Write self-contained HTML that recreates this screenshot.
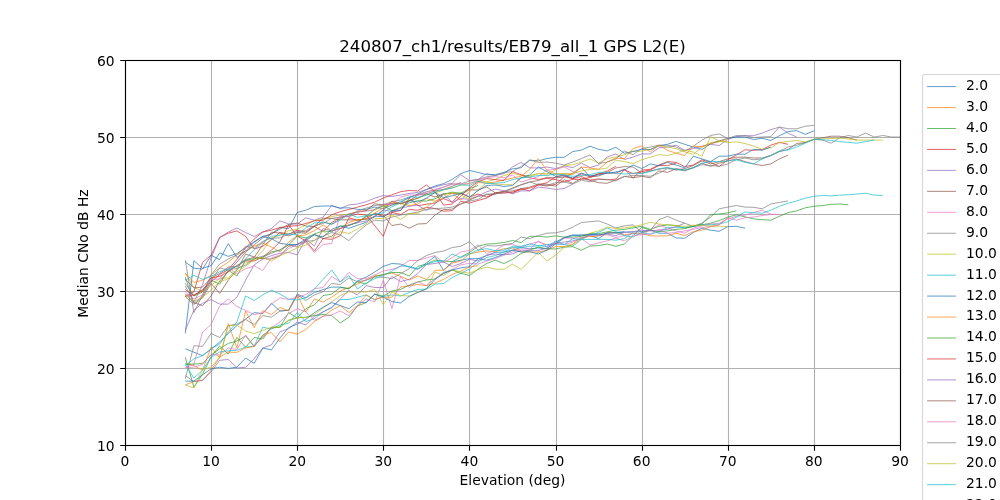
<!DOCTYPE html>
<html lang="en"><head><meta charset="utf-8"><title>240807_ch1/results/EB79_all_1 GPS L2(E)</title>
<style>html,body{margin:0;padding:0;background:#fff;overflow:hidden}svg{display:block}text{font-family:"DejaVu Sans","Liberation Sans",sans-serif;fill:#000}</style></head><body>
<svg width="1000" height="500" viewBox="0 0 1000 500">
<rect width="1000" height="500" fill="#fff"/>
<path d="M125.50 60.0V445.0M211.50 60.0V445.0M297.50 60.0V445.0M383.50 60.0V445.0M469.50 60.0V445.0M556.50 60.0V445.0M642.50 60.0V445.0M728.50 60.0V445.0M814.50 60.0V445.0M900.50 60.0V445.0M125.0 445.50H900.0M125.0 368.50H900.0M125.0 291.50H900.0M125.0 214.50H900.0M125.0 137.50H900.0M125.0 60.50H900.0" stroke="#b0b0b0" stroke-width="1.11" fill="none"/>
<clipPath id="c"><rect x="125.0" y="60.0" width="775.0" height="385.0"/></clipPath>
<g clip-path="url(#c)" fill="none" stroke-width="0.72" stroke-linejoin="round" stroke-linecap="butt">
<path d="M185.3 348.8L193.9 352.2L202.5 355.7L211.1 349.1L219.7 342.1L228.3 333.4L236.9 325.6L245.6 319.0L254.2 312.6L262.8 313.6L271.4 303.3L280.0 311.0L288.6 310.2L297.2 294.1L305.8 297.9L314.4 292.5L323.1 289.5L331.7 287.1L340.3 287.1L348.9 288.7L357.5 281.0L366.1 277.1L374.7 272.0L383.3 266.4L391.9 263.5L400.6 264.1L409.2 267.1L417.8 269.4L426.4 263.0L435.0 256.4L443.6 270.5L452.2 262.0L460.8 260.2L469.4 258.7L478.1 258.7L486.7 255.6L495.3 252.3L503.9 252.0L512.5 250.2L521.1 247.4L529.7 248.8L538.3 247.9L546.9 249.0L555.6 242.0L564.2 237.5L572.8 234.8L581.4 235.6L590.0 235.6L598.6 238.6L607.2 232.5L615.8 233.2L624.4 232.0L633.1 232.0L641.7 231.7L650.3 230.2L658.9 233.2L667.5 233.2L676.1 237.9L684.7 238.3L693.3 232.5L701.9 228.2L710.6 230.2L719.2 231.3L727.8 226.6L736.4 226.3L745.0 228.2" stroke="#1f77b4"/>
<path d="M185.3 363.4L193.9 365.7L202.5 370.3L211.1 347.2L219.7 358.0L228.3 323.6L236.9 348.0L245.6 311.0L254.2 327.6L262.8 310.6L271.4 314.5L280.0 307.5L288.6 311.0L297.2 294.9L305.8 312.0L314.4 299.0L323.1 302.0L331.7 297.2L340.3 291.0L348.9 287.5L357.5 284.1L366.1 280.0L374.7 276.0L383.3 274.8L391.9 273.0L400.6 276.4L409.2 280.0L417.8 276.0L426.4 279.4L435.0 270.5L443.6 270.0L452.2 263.3L460.8 261.0L469.4 254.0L478.1 252.0L486.7 251.0L495.3 251.7L503.9 248.7L512.5 247.9L521.1 251.7L529.7 252.0L538.3 252.0L546.9 250.2L555.6 246.6L564.2 246.6L572.8 244.0L581.4 237.5L590.0 236.6L598.6 236.0L607.2 233.2L615.8 232.5L624.4 234.8L633.1 233.5L641.7 233.2L650.3 235.9L658.9 235.9L667.5 235.9L676.1 233.2L684.7 235.6L693.3 231.7L701.9 230.2L710.6 226.6L719.2 224.8L727.8 217.8" stroke="#ff7f0e"/>
<path d="M185.3 357.2L193.9 387.2L202.5 374.2L211.1 356.8L219.7 346.0L228.3 354.1L236.9 337.5L245.6 347.2L254.2 337.5L262.8 339.0L271.4 327.2L280.0 327.2L288.6 312.6L297.2 317.9L305.8 308.7L314.4 304.9L323.1 295.6L331.7 294.1L340.3 287.5L348.9 288.7L357.5 281.8L366.1 284.1L374.7 276.4L383.3 274.5L391.9 272.5L400.6 272.5L409.2 276.0L417.8 266.4L426.4 264.1L435.0 260.0L443.6 261.0L452.2 261.7L460.8 257.1L469.4 252.5L478.1 246.3L486.7 244.0L495.3 243.6L503.9 242.5L512.5 240.5L521.1 242.5L529.7 236.3L538.3 236.3L546.9 237.1L555.6 235.9L564.2 237.1L572.8 237.1L581.4 236.3L590.0 233.6L598.6 233.6L607.2 231.9L615.8 230.2L624.4 229.4L633.1 227.9L641.7 226.3L650.3 229.4L658.9 226.3L667.5 224.8L676.1 225.6L684.7 227.9L693.3 226.3L701.9 224.8L710.6 223.2L719.2 220.5L727.8 217.1L736.4 214.8L745.0 216.8L753.6 218.9L762.2 219.7L770.8 220.2L779.4 216.3L788.1 212.5L796.7 210.9L805.3 207.8L813.9 206.3L822.5 205.5L831.1 204.4L839.7 204.0L848.3 204.8" stroke="#2ca02c"/>
<path d="M185.3 296.0L193.9 291.8L202.5 262.5L211.1 255.0L219.7 237.5L228.3 233.2L236.9 230.9L245.6 236.3L254.2 249.0L262.8 246.3L271.4 239.7L280.0 232.3L288.6 234.3L297.2 230.2L305.8 232.1L314.4 226.4L323.1 231.4L331.7 222.5L340.3 217.1L348.9 216.4L357.5 214.0L366.1 215.0L374.7 225.6L383.3 236.3L391.9 212.1L400.6 210.4L409.2 198.1L417.8 205.8L426.4 204.2L435.0 203.1L443.6 198.5L452.2 202.2L460.8 192.9L469.4 197.1L478.1 194.0L486.7 197.1L495.3 192.8L503.9 191.7L512.5 193.2L521.1 188.6L529.7 190.9L538.3 184.7L546.9 186.0L555.6 184.3L564.2 176.7L572.8 178.7L581.4 173.9L590.0 176.9L598.6 173.8L607.2 173.0L615.8 173.2L624.4 169.0L633.1 178.0L641.7 170.1L650.3 169.3L658.9 165.0L667.5 161.6L676.1 162.4L684.7 166.6L693.3 165.0L701.9 159.8L710.6 162.4L719.2 166.6L727.8 159.8L736.4 154.9L745.0 149.8L753.6 150.3L762.2 149.5L770.8 145.2L779.4 142.4L788.1 144.3" stroke="#d62728"/>
<path d="M185.3 286.0L193.9 302.0L202.5 284.8L211.1 257.9L219.7 237.5L228.3 232.0L236.9 228.0L245.6 232.5L254.2 236.5L262.8 232.0L271.4 228.6L280.0 220.9L288.6 224.0L297.2 224.0L305.8 217.8L314.4 220.2L323.1 217.1L331.7 205.5L340.3 208.6L348.9 204.9L357.5 204.0L366.1 201.7L374.7 198.1L383.3 195.5L391.9 196.5L400.6 195.1L409.2 193.5L417.8 192.4L426.4 189.4L435.0 187.1L443.6 184.7L452.2 183.2L460.8 174.7L469.4 180.5L478.1 179.4L486.7 173.6L495.3 175.5L503.9 173.6L512.5 167.0L521.1 162.4L529.7 167.8L538.3 168.0L546.9 167.0L555.6 168.6L564.2 166.0L572.8 167.6L581.4 163.2L590.0 167.6L598.6 165.0L607.2 157.0L615.8 153.9L624.4 159.5L633.1 157.0L641.7 153.9L650.3 153.9L658.9 147.8L667.5 147.0L676.1 145.2L684.7 150.3L693.3 148.6L701.9 146.2L710.6 144.3L719.2 145.5L727.8 139.3L736.4 136.6L745.0 135.7L753.6 135.7L762.2 133.1L770.8 129.7L779.4 127.1L788.1 133.1L796.7 137.1" stroke="#9467bd"/>
<path d="M185.3 296.6L193.9 304.4L202.5 297.9L211.1 283.3L219.7 293.5L228.3 280.2L236.9 270.1L245.6 254.1L254.2 256.9L262.8 258.7L271.4 259.0L280.0 255.9L288.6 246.4L297.2 244.4L305.8 240.9L314.4 234.2L323.1 238.7L331.7 236.2L340.3 228.6L348.9 225.5L357.5 221.8L366.1 216.8L374.7 214.0L383.3 215.1L391.9 225.6L400.6 224.0L409.2 228.2L417.8 224.0L426.4 223.6L435.0 215.1L443.6 209.6L452.2 209.1L460.8 204.0L469.4 200.1L478.1 196.3L486.7 194.8L495.3 194.0L503.9 191.7L512.5 190.9L521.1 188.6L529.7 187.1L538.3 184.0L546.9 184.2L555.6 186.2L564.2 179.7L572.8 183.4L581.4 178.2L590.0 180.4L598.6 182.7L607.2 183.3L615.8 180.1L624.4 176.3L633.1 177.8L641.7 176.3L650.3 177.8L658.9 170.9L667.5 172.4L676.1 168.6L684.7 170.1L693.3 167.8L701.9 163.2L710.6 166.3L719.2 163.2L727.8 160.9L736.4 158.9L745.0 161.6L753.6 163.9L762.2 165.5L770.8 163.9L779.4 158.9L788.1 155.2" stroke="#8c564b"/>
<path d="M185.3 367.2L193.9 364.5L202.5 332.0L211.1 324.5L219.7 306.0L228.3 299.0L236.9 306.4L245.6 310.5L254.2 314.5L262.8 313.0L271.4 304.1L280.0 297.9L288.6 299.5L297.2 297.2L305.8 294.5L314.4 288.7L323.1 287.5L331.7 276.4L340.3 282.0L348.9 272.5L357.5 278.7L366.1 278.7L374.7 275.0L383.3 271.0L391.9 269.4L400.6 266.4L409.2 260.5L417.8 260.5L426.4 257.9L435.0 255.6L443.6 262.5L452.2 257.5L460.8 252.0L469.4 250.6L478.1 244.8L486.7 253.5L495.3 250.6L503.9 244.8L512.5 244.6L521.1 247.1L529.7 244.0L538.3 241.7L546.9 244.8L555.6 243.0L564.2 238.0L572.8 238.3L581.4 237.5L590.0 235.6L598.6 235.0L607.2 234.8L615.8 237.5L624.4 235.6L633.1 233.5L641.7 234.0L650.3 230.2L658.9 224.8L667.5 228.2L676.1 230.9L684.7 233.2L693.3 228.2L701.9 225.6L710.6 224.0L719.2 223.2L727.8 218.9L736.4 216.3L745.0 215.1L753.6 212.5L762.2 210.2L770.8 214.2L779.4 214.5" stroke="#e377c2"/>
<path d="M185.3 378.8L193.9 345.7L202.5 346.4L211.1 333.4L219.7 337.5L228.3 325.6L236.9 324.1L245.6 319.5L254.2 324.5L262.8 315.6L271.4 317.2L280.0 311.0L288.6 310.2L297.2 294.9L305.8 300.5L314.4 294.9L323.1 291.8L331.7 283.5L340.3 284.5L348.9 277.9L357.5 281.8L366.1 280.2L374.7 277.1L383.3 277.1L391.9 278.7L400.6 273.5L409.2 268.7L417.8 260.5L426.4 255.6L435.0 252.5L443.6 251.0L452.2 247.5L460.8 246.3L469.4 241.7L478.1 250.2L486.7 245.6L495.3 246.0L503.9 244.8L512.5 243.3L521.1 237.1L529.7 238.6L538.3 235.6L546.9 233.2L555.6 232.8L564.2 230.9L572.8 227.1L581.4 222.5L590.0 221.7L598.6 220.9L607.2 224.0L615.8 227.9L624.4 225.9L633.1 224.8L641.7 232.5L650.3 230.2L658.9 219.7L667.5 216.3L676.1 220.2L684.7 223.2L693.3 226.3L701.9 223.2L710.6 217.1L719.2 208.8L727.8 207.1L736.4 205.5L745.0 207.1L753.6 207.3L762.2 208.8L770.8 204.0L779.4 202.4L788.1 200.9" stroke="#7f7f7f"/>
<path d="M185.3 273.3L193.9 287.1L202.5 291.4L211.1 285.6L219.7 278.2L228.3 277.9L236.9 269.4L245.6 263.1L254.2 260.0L262.8 250.7L271.4 238.4L280.0 235.2L288.6 230.8L297.2 229.2L305.8 225.0L314.4 220.5L323.1 219.0L331.7 216.5L340.3 215.1L348.9 214.3L357.5 211.7L366.1 210.4L374.7 210.2L383.3 205.9L391.9 204.8L400.6 203.6L409.2 200.1L417.8 198.4L426.4 194.8L435.0 193.0L443.6 190.1L452.2 187.7L460.8 185.5L469.4 183.4L478.1 180.9L486.7 181.7L495.3 179.4L503.9 175.5L512.5 173.2L521.1 175.5L529.7 175.5L538.3 173.6L546.9 174.0L555.6 170.1L564.2 165.5L572.8 164.7L581.4 162.0L590.0 159.0L598.6 163.2L607.2 158.6L615.8 157.0L624.4 154.7L633.1 151.0L641.7 151.2L650.3 149.3L658.9 145.2L667.5 147.0L676.1 148.6L684.7 152.0L693.3 154.2L701.9 147.0L710.6 142.6L719.2 140.9L727.8 141.6" stroke="#bcbd22"/>
<path d="M185.3 364.5L193.9 378.0L202.5 370.3L211.1 357.2L219.7 352.0L228.3 350.8L236.9 350.3L245.6 347.2L254.2 346.1L262.8 327.2L271.4 329.0L280.0 324.9L288.6 323.3L297.2 312.6L305.8 321.6L314.4 318.7L323.1 311.8L331.7 307.9L340.3 299.5L348.9 299.5L357.5 297.2L366.1 294.9L374.7 300.0L383.3 296.4L391.9 294.9L400.6 296.0L409.2 292.5L417.8 289.5L426.4 289.0L435.0 284.1L443.6 283.5L452.2 277.5L460.8 273.3L469.4 269.1L478.1 262.0L486.7 257.5L495.3 255.6L503.9 252.0L512.5 247.5L521.1 247.5L529.7 246.3L538.3 246.0L546.9 244.6L555.6 244.3L564.2 244.4L572.8 246.1L581.4 239.6L590.0 234.8L598.6 232.4L607.2 228.0L615.8 231.5L624.4 235.8L633.1 237.0L641.7 232.5L650.3 234.3L658.9 231.7L667.5 227.4L676.1 227.4L684.7 227.4L693.3 226.6L701.9 224.8L710.6 224.8L719.2 224.0L727.8 221.7L736.4 217.1L745.0 211.9L753.6 212.8L762.2 213.2L770.8 210.2L779.4 206.3L788.1 203.2L796.7 200.9L805.3 198.2L813.9 196.3L822.5 195.5L831.1 195.9L839.7 195.1L848.3 194.8L856.9 194.0L865.6 193.2L874.2 195.1L882.8 195.5" stroke="#17becf"/>
<path d="M185.3 333.4L193.9 260.7L202.5 268.3L211.1 265.6L219.7 252.9L228.3 256.4L236.9 253.5L245.6 247.9L254.2 241.7L262.8 236.3L271.4 234.0L280.0 227.5L288.6 228.6L297.2 212.5L305.8 210.2L314.4 206.5L323.1 206.0L331.7 206.0L340.3 208.0L348.9 207.8L357.5 209.4L366.1 209.4L374.7 207.1L383.3 208.6L391.9 205.1L400.6 201.7L409.2 197.8L417.8 194.0L426.4 189.6L435.0 186.0L443.6 183.6L452.2 179.4L460.8 173.6L469.4 170.5L478.1 172.4L486.7 174.7L495.3 174.7L503.9 172.4L512.5 168.8L521.1 167.8L529.7 160.1L538.3 160.9L546.9 158.6L555.6 157.3L564.2 157.3L572.8 151.6L581.4 150.1L590.0 146.2L598.6 149.3L607.2 150.9L615.8 147.3L624.4 153.2L633.1 151.6L641.7 149.3L650.3 149.5L658.9 146.0L667.5 144.3L676.1 141.4L684.7 144.3L693.3 147.0L701.9 149.5L710.6 143.9L719.2 140.9L727.8 138.3L736.4 137.1L745.0 137.1L753.6 139.5L762.2 138.3L770.8 140.5L779.4 135.7L788.1 131.6L796.7 130.6L805.3 134.4L813.9 130.8" stroke="#1f77b4"/>
<path d="M185.3 384.9L193.9 381.5L202.5 380.3L211.1 370.3L219.7 357.2L228.3 352.0L236.9 352.4L245.6 348.0L254.2 346.4L262.8 334.9L271.4 332.6L280.0 341.8L288.6 332.0L297.2 334.1L305.8 329.5L314.4 321.6L323.1 316.4L331.7 310.2L340.3 305.6L348.9 312.6L357.5 305.6L366.1 295.0L374.7 299.5L383.3 297.2L391.9 297.2L400.6 287.1L409.2 285.6L417.8 284.5L426.4 285.6L435.0 283.0L443.6 279.4L452.2 274.5L460.8 271.0L469.4 267.1L478.1 265.6" stroke="#ff7f0e"/>
<path d="M185.3 364.1L193.9 364.1L202.5 363.4L211.1 354.9L219.7 348.8L228.3 343.4L236.9 341.1L245.6 336.0L254.2 346.4L262.8 335.7L271.4 328.0L280.0 327.2L288.6 320.3L297.2 317.9L305.8 317.2L314.4 315.6L323.1 314.5L331.7 315.6L340.3 323.0L348.9 317.2L357.5 306.0L366.1 302.6L374.7 294.1L383.3 296.0L391.9 291.0L400.6 289.5L409.2 285.0L417.8 282.0L426.4 280.0L435.0 279.0L443.6 272.5L452.2 270.0L460.8 273.3L469.4 275.6L478.1 269.1L486.7 263.5L495.3 260.2L503.9 263.5L512.5 259.4L521.1 253.5L529.7 250.2L538.3 247.1L546.9 248.7L555.6 249.0L564.2 247.1L572.8 246.7L581.4 250.2L590.0 246.0L598.6 245.6L607.2 244.0L615.8 246.3L624.4 244.0L633.1 235.6L641.7 227.4L650.3 230.2L658.9 231.7L667.5 230.9L676.1 229.4L684.7 228.6L693.3 226.3L701.9 224.0L710.6 214.8L719.2 214.0L727.8 212.8L736.4 210.9" stroke="#2ca02c"/>
<path d="M185.3 296.4L193.9 294.9L202.5 291.0L211.1 277.9L219.7 276.4L228.3 271.8L236.9 265.5L245.6 261.0L254.2 261.0L262.8 257.0L271.4 250.2L280.0 241.7L288.6 224.8L297.2 236.0L305.8 240.9L314.4 251.0L323.1 238.6L331.7 239.4L340.3 235.6L348.9 217.8L357.5 220.2L366.1 219.0L374.7 213.4L383.3 216.5L391.9 212.4L400.6 214.5L409.2 209.5L417.8 210.2L426.4 207.4L435.0 208.5L443.6 211.2L452.2 210.7L460.8 201.4L469.4 203.1L478.1 200.5L486.7 198.1L495.3 193.2L503.9 193.2L512.5 192.1L521.1 189.6L529.7 188.1L538.3 185.0L546.9 182.7L555.6 176.9L564.2 175.0L572.8 178.6L581.4 176.5L590.0 180.1L598.6 178.9L607.2 179.9L615.8 179.1L624.4 169.8L633.1 173.7L641.7 171.6L650.3 170.0L658.9 165.5L667.5 165.6L676.1 163.2" stroke="#d62728"/>
<path d="M185.3 375.7L193.9 381.5L202.5 380.3L211.1 371.9L219.7 360.3L228.3 359.5L236.9 368.0L245.6 367.2L254.2 358.8L262.8 348.0L271.4 344.9L280.0 331.8L288.6 328.7L297.2 322.0L305.8 324.9L314.4 316.4L323.1 311.8L331.7 307.2L340.3 299.0L348.9 290.5L357.5 295.0L366.1 285.6L374.7 287.5L383.3 287.5L391.9 276.4L400.6 281.5L409.2 279.4L417.8 273.5L426.4 264.5L435.0 263.5L443.6 262.0L452.2 266.4L460.8 263.5L469.4 259.4L478.1 261.0L486.7 255.0L495.3 254.0L503.9 254.8L512.5 254.0L521.1 250.2L529.7 250.6L538.3 250.6L546.9 247.9L555.6 243.3L564.2 242.0L572.8 240.9L581.4 238.6L590.0 234.8L598.6 235.0L607.2 234.0L615.8 235.6L624.4 232.5L633.1 231.7L641.7 230.2L650.3 230.9L658.9 230.2L667.5 229.4L676.1 226.6L684.7 223.2" stroke="#9467bd"/>
<path d="M185.3 279.0L193.9 287.9L202.5 287.1L211.1 277.9L219.7 273.5L228.3 267.1L236.9 266.7L245.6 259.6L254.2 257.4L262.8 244.6L271.4 232.1L280.0 233.1L288.6 235.9L297.2 232.4L305.8 233.2L314.4 226.2L323.1 218.2L331.7 218.5L340.3 219.8L348.9 219.9L357.5 219.9L366.1 219.3L374.7 216.7L383.3 210.2L391.9 201.1L400.6 203.8L409.2 201.1L417.8 198.2L426.4 193.7L435.0 197.1L443.6 193.7L452.2 193.2L460.8 194.1L469.4 189.9L478.1 190.0L486.7 186.9L495.3 193.0L503.9 191.4L512.5 188.0L521.1 184.7L529.7 182.0L538.3 180.5L546.9 177.3L555.6 177.8L564.2 177.0L572.8 173.2L581.4 167.3L590.0 177.0L598.6 176.0L607.2 172.5L615.8 168.0L624.4 166.6L633.1 167.0L641.7 173.2L650.3 170.9L658.9 169.3L667.5 167.8L676.1 170.1L684.7 168.6L693.3 165.5L701.9 160.9L710.6 163.9L719.2 161.6L727.8 158.9L736.4 157.2L745.0 157.2L753.6 158.0L762.2 158.0L770.8 155.5L779.4 151.6L788.1 149.5L796.7 143.5L805.3 142.6L813.9 139.3L822.5 137.8L831.1 136.2L839.7 136.2L848.3 137.8L856.9 140.1" stroke="#8c564b"/>
<path d="M185.3 367.6L193.9 367.2L202.5 364.4L211.1 354.4L219.7 355.1L228.3 348.0L236.9 349.5L245.6 335.0L254.2 346.1L262.8 337.2L271.4 328.0L280.0 321.8L288.6 313.6L297.2 308.7L305.8 311.8L314.4 320.3L323.1 316.4L331.7 314.9L340.3 311.0L348.9 315.6L357.5 306.0L366.1 299.0L374.7 302.0L383.3 280.0L391.9 308.7L400.6 276.4L409.2 287.5L417.8 281.5L426.4 285.6L435.0 278.7L443.6 273.3L452.2 269.4L460.8 264.8L469.4 263.3L478.1 264.1L486.7 261.0L495.3 258.7L503.9 255.0L512.5 252.0L521.1 248.7L529.7 249.4L538.3 240.9L546.9 246.6L555.6 243.0L564.2 244.6L572.8 242.0L581.4 238.6L590.0 245.0L598.6 243.0L607.2 240.9L615.8 238.0L624.4 240.9L633.1 235.6L641.7 234.8L650.3 234.0L658.9 229.4L667.5 233.2L676.1 232.5L684.7 230.9L693.3 229.4L701.9 227.4L710.6 226.6L719.2 224.8L727.8 217.8L736.4 220.2L745.0 217.8L753.6 217.1L762.2 215.5L770.8 214.5" stroke="#e377c2"/>
<path d="M185.3 260.2L193.9 312.6L202.5 294.9L211.1 274.8L219.7 264.1L228.3 259.0L236.9 254.8L245.6 246.3L254.2 248.2L262.8 241.3L271.4 238.1L280.0 237.9L288.6 234.0L297.2 231.7L305.8 230.7L314.4 225.6L323.1 223.6L331.7 218.3L340.3 217.1L348.9 215.9L357.5 210.9L366.1 208.1L374.7 205.5L383.3 204.8L391.9 201.7L400.6 200.0L409.2 197.1L417.8 194.4L426.4 191.7L435.0 190.1L443.6 187.1L452.2 184.0L460.8 184.0L469.4 181.0L478.1 179.4L486.7 176.8L495.3 175.5L503.9 172.7L512.5 171.6L521.1 166.3L529.7 160.1L538.3 162.4L546.9 162.0L555.6 163.2L564.2 165.0L572.8 162.0L581.4 158.6L590.0 155.0L598.6 163.6L607.2 162.0L615.8 159.0L624.4 151.0L633.1 154.7L641.7 148.6L650.3 147.0L658.9 145.2L667.5 145.2L676.1 147.0L684.7 151.2L693.3 146.2L701.9 140.1L710.6 135.5L719.2 133.9L727.8 138.5L736.4 135.5L745.0 135.7L753.6 137.5L762.2 137.0L770.8 136.6L779.4 127.0L788.1 128.8L796.7 128.8L805.3 126.2L813.9 125.4" stroke="#7f7f7f"/>
<path d="M185.3 384.9L193.9 388.0L202.5 369.5L211.1 367.2L219.7 357.2L228.3 325.6L236.9 325.0L245.6 331.0L254.2 333.6L262.8 330.3L271.4 327.2L280.0 327.2L288.6 320.3L297.2 317.6L305.8 317.6L314.4 314.5L323.1 307.9L331.7 301.8L340.3 295.6L348.9 291.8L357.5 292.0L366.1 292.0L374.7 289.5L383.3 304.6L391.9 292.0L400.6 295.6L409.2 296.0L417.8 292.0L426.4 289.0L435.0 272.0L443.6 275.6L452.2 270.0L460.8 271.8L469.4 273.3L478.1 269.7L486.7 267.1L495.3 269.1L503.9 269.4L512.5 264.1L521.1 269.4L529.7 261.0L538.3 252.0L546.9 261.0L555.6 255.1L564.2 247.3L572.8 244.8L581.4 238.6L590.0 233.2L598.6 230.9L607.2 227.1L615.8 228.6L624.4 227.9L633.1 226.7L641.7 224.8L650.3 222.2L658.9 224.0L667.5 224.8L676.1 225.6L684.7 226.3L693.3 225.2L701.9 225.6L710.6 225.9L719.2 226.3L727.8 226.6" stroke="#bcbd22"/>
<path d="M185.3 365.7L193.9 358.8L202.5 355.7L211.1 348.8L219.7 344.1L228.3 332.0L236.9 322.0L245.6 296.0L254.2 300.5L262.8 294.9L271.4 290.2L280.0 294.1L288.6 299.0L297.2 300.0L305.8 297.9L314.4 289.0L323.1 279.4L331.7 270.0L340.3 282.0L348.9 275.6L357.5 289.0L366.1 283.0L374.7 278.7L383.3 275.6L391.9 271.0L400.6 266.0L409.2 266.4L417.8 268.7L426.4 264.5L435.0 261.5L443.6 261.0L452.2 254.0L460.8 257.5L469.4 254.0L478.1 250.2L486.7 248.7L495.3 250.6L503.9 250.2L512.5 246.3L521.1 246.3L529.7 244.0L538.3 245.6L546.9 246.6L555.6 240.9L564.2 244.6L572.8 238.6L581.4 239.4L590.0 239.4L598.6 239.4L607.2 239.4L615.8 240.2L624.4 238.6L633.1 232.5" stroke="#17becf"/>
<path d="M185.3 381.1L193.9 381.1L202.5 374.9L211.1 368.8L219.7 367.2L228.3 368.4L236.9 367.2L245.6 358.0L254.2 363.4L262.8 348.0L271.4 349.9L280.0 338.0L288.6 327.6L297.2 324.1L305.8 319.5L314.4 312.6L323.1 307.2L331.7 302.6L340.3 305.6L348.9 308.7L357.5 302.0L366.1 302.6L374.7 294.1L383.3 297.2L391.9 301.5L400.6 303.0L409.2 296.5L417.8 292.5L426.4 289.0L435.0 279.4L443.6 273.5L452.2 270.0L460.8 267.9L469.4 266.6L478.1 258.7L486.7 260.2L495.3 257.5L503.9 254.0L512.5 250.2L521.1 252.0L529.7 251.7L538.3 254.0L546.9 250.2L555.6 244.0L564.2 237.9L572.8 235.6L581.4 234.8L590.0 234.4L598.6 234.8L607.2 233.2L615.8 232.5L624.4 231.7" stroke="#1f77b4"/>
<path d="M185.3 273.3L193.9 282.5L202.5 280.2L211.1 275.1L219.7 267.9L228.3 262.0L236.9 254.8L245.6 251.1L254.2 246.1L262.8 243.0L271.4 247.1L280.0 252.0L288.6 242.0L297.2 236.0L305.8 234.8L314.4 230.6L323.1 225.0L331.7 230.9L340.3 228.2L348.9 222.5L357.5 219.8L366.1 218.9L374.7 213.0L383.3 208.0L391.9 202.1L400.6 203.5L409.2 205.6L417.8 204.1L426.4 198.4L435.0 201.4L443.6 197.8L452.2 193.2L460.8 200.1L469.4 192.1L478.1 182.4L486.7 183.2L495.3 182.0L503.9 180.1L512.5 178.0L521.1 176.3L529.7 169.3L538.3 158.6L546.9 170.1L555.6 174.0L564.2 173.6L572.8 174.7L581.4 167.0L590.0 168.0L598.6 169.3L607.2 162.0L615.8 158.0L624.4 158.6L633.1 148.6L641.7 146.0L650.3 152.0L658.9 145.2L667.5 150.3L676.1 153.2L684.7 155.5L693.3 146.0L701.9 147.0L710.6 143.5L719.2 141.8L727.8 138.5" stroke="#ff7f0e"/>
<path d="M185.3 283.3L193.9 296.0L202.5 292.0L211.1 280.2L219.7 284.1L228.3 270.2L236.9 276.0L245.6 260.2L254.2 258.7L262.8 257.9L271.4 252.0L280.0 250.2L288.6 245.0L297.2 236.0L305.8 237.9L314.4 234.0L323.1 230.9L331.7 231.7L340.3 226.2L348.9 225.3L357.5 222.7L366.1 216.2L374.7 209.4L383.3 205.7L391.9 210.8L400.6 207.5L409.2 202.8L417.8 200.7L426.4 201.1L435.0 198.8L443.6 194.4L452.2 192.1L460.8 193.2L469.4 188.6L478.1 185.5" stroke="#2ca02c"/>
<path d="M185.3 289.5L193.9 295.6L202.5 289.5L211.1 281.8L219.7 274.5L228.3 269.4L236.9 259.4L245.6 247.9L254.2 239.0L262.8 232.0L271.4 230.2L280.0 227.5L288.6 226.3L297.2 225.6L305.8 223.5L314.4 220.9L323.1 220.2L331.7 214.8L340.3 211.7L348.9 209.4L357.5 207.1L366.1 204.8L374.7 202.1L383.3 198.1L391.9 194.8L400.6 191.7L409.2 190.5L417.8 190.9L426.4 185.0L435.0 191.7L443.6 205.1L452.2 204.0L460.8 196.3L469.4 187.8L478.1 181.7L486.7 178.6L495.3 179.6L503.9 180.5L512.5 171.6L521.1 174.7L529.7 177.8L538.3 179.4L546.9 178.4L555.6 179.6L564.2 181.8L572.8 179.3L581.4 179.4L590.0 177.4L598.6 174.0L607.2 171.0L615.8 166.3" stroke="#d62728"/>
<path d="M185.3 330.3L193.9 310.2L202.5 303.3L211.1 299.5L219.7 304.1L228.3 304.1L236.9 297.2L245.6 280.2L254.2 264.8L262.8 259.0L271.4 255.6L280.0 253.3L288.6 252.5L297.2 254.8L305.8 239.0L314.4 246.0L323.1 228.6L331.7 230.9L340.3 228.6L348.9 224.8L357.5 222.5L366.1 221.0L374.7 216.2L383.3 210.0L391.9 211.4L400.6 208.2L409.2 206.3L417.8 205.1L426.4 210.5L435.0 204.0L443.6 194.0L452.2 202.4L460.8 198.6L469.4 199.3L478.1 195.8L486.7 191.8L495.3 189.1L503.9 190.7L512.5 193.7L521.1 190.9L529.7 190.9L538.3 187.1L546.9 188.0L555.6 189.4L564.2 188.5L572.8 184.1" stroke="#9467bd"/>
<path d="M185.3 294.1L193.9 302.6L202.5 305.6L211.1 296.0L219.7 281.0L228.3 271.8L236.9 262.0L245.6 252.2L254.2 244.8L262.8 237.9L271.4 234.0L280.0 229.0L288.6 224.5L297.2 223.0L305.8 226.0L314.4 226.6L323.1 222.0L331.7 224.0L340.3 218.7L348.9 213.9L357.5 212.3L366.1 210.7L374.7 203.8L383.3 205.0L391.9 203.5L400.6 203.5L409.2 200.9L417.8 195.1L426.4 193.7L435.0 190.9L443.6 189.4L452.2 186.3L460.8 182.4" stroke="#8c564b"/>
<path d="M185.3 292.0L193.9 299.0L202.5 294.9L211.1 279.4L219.7 279.0L228.3 267.9L236.9 274.1L245.6 268.7L254.2 266.0L262.8 270.5L271.4 257.9L280.0 255.1L288.6 248.6L297.2 244.6L305.8 242.5L314.4 252.5L323.1 244.5L331.7 243.5L340.3 215.0L348.9 217.1L357.5 211.2L366.1 211.3L374.7 209.5L383.3 203.8L391.9 204.5L400.6 197.2L409.2 194.9L417.8 195.1L426.4 192.2L435.0 189.4L443.6 187.1L452.2 184.0L460.8 184.0L469.4 183.6L478.1 180.1L486.7 177.8L495.3 176.6L503.9 177.8L512.5 175.0L521.1 182.0L529.7 179.4L538.3 176.6L546.9 170.1L555.6 169.3L564.2 167.0L572.8 171.6L581.4 174.0" stroke="#e377c2"/>
<path d="M185.3 277.1L193.9 303.3L202.5 296.4L211.1 281.0L219.7 268.0L228.3 270.1L236.9 268.4L245.6 265.1L254.2 258.5L262.8 256.2L271.4 253.4L280.0 249.7L288.6 244.8L297.2 247.0L305.8 241.6L314.4 240.3L323.1 236.0L331.7 232.5L340.3 235.0L348.9 240.6L357.5 232.0L366.1 225.1L374.7 220.2L383.3 220.9L391.9 217.1L400.6 215.1L409.2 213.6L417.8 212.1L426.4 209.4L435.0 208.6L443.6 208.1L452.2 207.1L460.8 204.1L469.4 201.1L478.1 199.4L486.7 194.0L495.3 194.0L503.9 192.1L512.5 188.6L521.1 185.0L529.7 182.0L538.3 184.7L546.9 185.4L555.6 182.7L564.2 182.1L572.8 184.0L581.4 180.1L590.0 181.8L598.6 179.4L607.2 179.4L615.8 180.9L624.4 176.5L633.1 175.5L641.7 175.5L650.3 176.3L658.9 173.2L667.5 168.6L676.1 169.3L684.7 170.9L693.3 167.8L701.9 164.7L710.6 165.5L719.2 166.3L727.8 163.9L736.4 159.8L745.0 158.0L753.6 159.8L762.2 158.9L770.8 155.5L779.4 151.2L788.1 147.0L796.7 145.2L805.3 142.6L813.9 139.3L822.5 140.1L831.1 143.2L839.7 137.8L848.3 135.5L856.9 137.0L865.6 133.1L874.2 137.0L882.8 135.5L891.4 137.0L900.0 137.0" stroke="#7f7f7f"/>
<path d="M185.3 294.9L193.9 301.0L202.5 297.2L211.1 290.2L219.7 281.8L228.3 278.7L236.9 271.8L245.6 266.4L254.2 259.4L262.8 257.4L271.4 261.1L280.0 255.8L288.6 252.0L297.2 247.9L305.8 245.0L314.4 240.6L323.1 230.9L331.7 237.9L340.3 231.7L348.9 233.5L357.5 229.0L366.1 223.6L374.7 218.5L383.3 218.4L391.9 214.8L400.6 219.4L409.2 213.6L417.8 213.6L426.4 207.1L435.0 201.7L443.6 194.8L452.2 192.4L460.8 194.8L469.4 199.4L478.1 189.6L486.7 182.6L495.3 184.0L503.9 184.7L512.5 184.7L521.1 177.8L529.7 176.3L538.3 173.6L546.9 174.0L555.6 174.0L564.2 174.0L572.8 173.6L581.4 171.0L590.0 169.3L598.6 169.3L607.2 168.0L615.8 160.1L624.4 161.6L633.1 163.6L641.7 159.8L650.3 157.2L658.9 154.7L667.5 155.5L676.1 153.2L684.7 150.3L693.3 152.0L701.9 156.2L710.6 136.6L719.2 140.9L727.8 142.6L736.4 141.8L745.0 143.5L753.6 146.0L762.2 149.3L770.8 147.8L779.4 142.6L788.1 141.4L796.7 140.5L805.3 141.8L813.9 139.3L822.5 138.9L831.1 138.5L839.7 138.2L848.3 138.9L856.9 140.1L865.6 140.1L874.2 140.1L882.8 140.1" stroke="#bcbd22"/>
<path d="M185.3 280.5L193.9 275.1L202.5 279.4L211.1 276.4L219.7 271.8L228.3 269.1L236.9 266.4L245.6 259.0L254.2 249.6L262.8 242.3L271.4 236.3L280.0 235.0L288.6 234.0L297.2 235.0L305.8 228.0L314.4 223.0L323.1 222.0L331.7 224.5L340.3 219.9L348.9 214.2L357.5 217.4L366.1 215.8L374.7 214.2L383.3 212.8L391.9 206.7L400.6 202.9L409.2 196.8L417.8 197.4L426.4 195.2L435.0 192.0L443.6 189.6L452.2 188.1L460.8 184.7L469.4 185.5L478.1 181.0L486.7 183.6L495.3 183.2L503.9 182.6L512.5 179.6L521.1 178.0L529.7 177.0L538.3 175.5L546.9 175.5L555.6 174.0L564.2 174.7L572.8 176.3L581.4 175.5L590.0 174.7L598.6 172.4L607.2 172.4L615.8 173.2L624.4 174.0L633.1 173.2L641.7 173.5L650.3 171.6L658.9 168.6L667.5 167.5L676.1 169.3L684.7 170.1L693.3 167.5L701.9 163.2L710.6 161.6L719.2 161.6L727.8 160.9L736.4 159.8L745.0 162.4L753.6 163.9L762.2 158.9L770.8 155.5L779.4 151.2L788.1 149.8L796.7 147.0L805.3 143.2L813.9 139.3L822.5 139.7L831.1 140.5L839.7 141.6L848.3 142.4L856.9 143.2L865.6 141.6L874.2 140.1" stroke="#17becf"/>
<path d="M185.3 262.1L193.9 268.2L202.5 269.1L211.1 255.3L219.7 259.5L228.3 243.6L236.9 257.5L245.6 251.0L254.2 242.0L262.8 236.6L271.4 238.6L280.0 243.3L288.6 244.5L297.2 244.5L305.8 239.0L314.4 235.0L323.1 237.1L331.7 229.4L340.3 225.9L348.9 228.3L357.5 225.3L366.1 222.3L374.7 216.2L383.3 216.7L391.9 210.9L400.6 210.5L409.2 200.4L417.8 202.1L426.4 198.1L435.0 192.5L443.6 197.8L452.2 195.8L460.8 193.2L469.4 197.1L478.1 190.5L486.7 185.5L495.3 185.0L503.9 186.5L512.5 185.5L521.1 177.8L529.7 175.0L538.3 167.0L546.9 171.6L555.6 176.3L564.2 175.7L572.8 178.0L581.4 173.1L590.0 175.8L598.6 174.8L607.2 173.3L615.8 172.0L624.4 170.1L633.1 165.0L641.7 168.6L650.3 163.9L658.9 165.8L667.5 162.4L676.1 165.0L684.7 167.8L693.3 156.2L701.9 158.9L710.6 161.6L719.2 156.2L727.8 156.2L736.4 154.2L745.0 154.2L753.6 149.3L762.2 150.3L770.8 147.0" stroke="#1f77b4"/>
</g>
<path d="M125.50 445.5v5.3M211.50 445.5v5.3M297.50 445.5v5.3M383.50 445.5v5.3M469.50 445.5v5.3M556.50 445.5v5.3M642.50 445.5v5.3M728.50 445.5v5.3M814.50 445.5v5.3M900.50 445.5v5.3M125.5 445.50h-5.3M125.5 368.50h-5.3M125.5 291.50h-5.3M125.5 214.50h-5.3M125.5 137.50h-5.3M125.5 60.50h-5.3" stroke="#000" stroke-width="1.11" fill="none"/>
<rect x="125.5" y="60.5" width="775.0" height="385.0" fill="none" stroke="#000" stroke-width="1.11"/>
<g font-size="13.89px">
<text x="125.00" y="466.2" text-anchor="middle">0</text>
<text x="211.11" y="466.2" text-anchor="middle">10</text>
<text x="297.22" y="466.2" text-anchor="middle">20</text>
<text x="383.33" y="466.2" text-anchor="middle">30</text>
<text x="469.44" y="466.2" text-anchor="middle">40</text>
<text x="555.56" y="466.2" text-anchor="middle">50</text>
<text x="641.67" y="466.2" text-anchor="middle">60</text>
<text x="727.78" y="466.2" text-anchor="middle">70</text>
<text x="813.89" y="466.2" text-anchor="middle">80</text>
<text x="900.00" y="466.2" text-anchor="middle">90</text>
<text x="114.7" y="451.20" text-anchor="end">10</text>
<text x="114.7" y="374.20" text-anchor="end">20</text>
<text x="114.7" y="297.20" text-anchor="end">30</text>
<text x="114.7" y="220.20" text-anchor="end">40</text>
<text x="114.7" y="143.20" text-anchor="end">50</text>
<text x="114.7" y="66.20" text-anchor="end">60</text>
<text x="512.5" y="485.3" text-anchor="middle">Elevation (deg)</text>
<text transform="translate(88.2 253.5) rotate(-90)" text-anchor="middle">Median CNo dB Hz</text>
</g>
<text x="512.5" y="51.6" text-anchor="middle" font-size="16.67px">240807_ch1/results/EB79_all_1 GPS L2(E)</text>
<rect x="922.5" y="74.5" width="120" height="700" rx="2.8" ry="2.8" fill="#fff" fill-opacity="0.8" stroke="#ccc" stroke-opacity="0.8" stroke-width="1.11"/>
<g font-size="13.89px">
<path d="M927.1 86.60h28.8" stroke="#1f77b4" stroke-width="0.72" fill="none"/>
<text x="966.0" y="90.00">2.0</text>
<path d="M927.1 107.55h28.8" stroke="#ff7f0e" stroke-width="0.72" fill="none"/>
<text x="966.0" y="110.95">3.0</text>
<path d="M927.1 128.50h28.8" stroke="#2ca02c" stroke-width="0.72" fill="none"/>
<text x="966.0" y="131.90">4.0</text>
<path d="M927.1 149.45h28.8" stroke="#d62728" stroke-width="0.72" fill="none"/>
<text x="966.0" y="152.85">5.0</text>
<path d="M927.1 170.40h28.8" stroke="#9467bd" stroke-width="0.72" fill="none"/>
<text x="966.0" y="173.80">6.0</text>
<path d="M927.1 191.35h28.8" stroke="#8c564b" stroke-width="0.72" fill="none"/>
<text x="966.0" y="194.75">7.0</text>
<path d="M927.1 212.30h28.8" stroke="#e377c2" stroke-width="0.72" fill="none"/>
<text x="966.0" y="215.70">8.0</text>
<path d="M927.1 233.25h28.8" stroke="#7f7f7f" stroke-width="0.72" fill="none"/>
<text x="966.0" y="236.65">9.0</text>
<path d="M927.1 254.20h28.8" stroke="#bcbd22" stroke-width="0.72" fill="none"/>
<text x="966.0" y="257.60">10.0</text>
<path d="M927.1 275.15h28.8" stroke="#17becf" stroke-width="0.72" fill="none"/>
<text x="966.0" y="278.55">11.0</text>
<path d="M927.1 296.10h28.8" stroke="#1f77b4" stroke-width="0.72" fill="none"/>
<text x="966.0" y="299.50">12.0</text>
<path d="M927.1 317.05h28.8" stroke="#ff7f0e" stroke-width="0.72" fill="none"/>
<text x="966.0" y="320.45">13.0</text>
<path d="M927.1 338.00h28.8" stroke="#2ca02c" stroke-width="0.72" fill="none"/>
<text x="966.0" y="341.40">14.0</text>
<path d="M927.1 358.95h28.8" stroke="#d62728" stroke-width="0.72" fill="none"/>
<text x="966.0" y="362.35">15.0</text>
<path d="M927.1 379.90h28.8" stroke="#9467bd" stroke-width="0.72" fill="none"/>
<text x="966.0" y="383.30">16.0</text>
<path d="M927.1 400.85h28.8" stroke="#8c564b" stroke-width="0.72" fill="none"/>
<text x="966.0" y="404.25">17.0</text>
<path d="M927.1 421.80h28.8" stroke="#e377c2" stroke-width="0.72" fill="none"/>
<text x="966.0" y="425.20">18.0</text>
<path d="M927.1 442.75h28.8" stroke="#7f7f7f" stroke-width="0.72" fill="none"/>
<text x="966.0" y="446.15">19.0</text>
<path d="M927.1 463.70h28.8" stroke="#bcbd22" stroke-width="0.72" fill="none"/>
<text x="966.0" y="467.10">20.0</text>
<path d="M927.1 484.65h28.8" stroke="#17becf" stroke-width="0.72" fill="none"/>
<text x="966.0" y="488.05">21.0</text>
<path d="M927.1 505.60h28.8" stroke="#1f77b4" stroke-width="0.72" fill="none"/>
<text x="966.0" y="509.00">22.0</text>
<path d="M927.1 526.55h28.8" stroke="#ff7f0e" stroke-width="0.72" fill="none"/>
<text x="966.0" y="529.95">23.0</text>
<path d="M927.1 547.50h28.8" stroke="#2ca02c" stroke-width="0.72" fill="none"/>
<text x="966.0" y="550.90">24.0</text>
<path d="M927.1 568.45h28.8" stroke="#d62728" stroke-width="0.72" fill="none"/>
<text x="966.0" y="571.85">25.0</text>
<path d="M927.1 589.40h28.8" stroke="#9467bd" stroke-width="0.72" fill="none"/>
<text x="966.0" y="592.80">26.0</text>
<path d="M927.1 610.35h28.8" stroke="#8c564b" stroke-width="0.72" fill="none"/>
<text x="966.0" y="613.75">27.0</text>
<path d="M927.1 631.30h28.8" stroke="#e377c2" stroke-width="0.72" fill="none"/>
<text x="966.0" y="634.70">28.0</text>
<path d="M927.1 652.25h28.8" stroke="#7f7f7f" stroke-width="0.72" fill="none"/>
<text x="966.0" y="655.65">29.0</text>
<path d="M927.1 673.20h28.8" stroke="#bcbd22" stroke-width="0.72" fill="none"/>
<text x="966.0" y="676.60">30.0</text>
<path d="M927.1 694.15h28.8" stroke="#17becf" stroke-width="0.72" fill="none"/>
<text x="966.0" y="697.55">31.0</text>
<path d="M927.1 715.10h28.8" stroke="#1f77b4" stroke-width="0.72" fill="none"/>
<text x="966.0" y="718.50">32.0</text>
</g>
</svg></body></html>
